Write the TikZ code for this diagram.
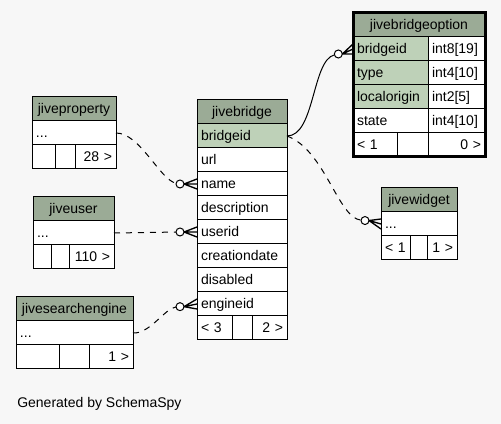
\documentclass[tikz,border=0pt]{standalone}
\usepackage{fontspec}
\setmainfont{Liberation Sans}
\usepackage{xcolor}
\usetikzlibrary{positioning}

\definecolor{hdrgreen}{HTML}{9BAB96}
\definecolor{keygreen}{HTML}{BED1B8}
\definecolor{canvas}{HTML}{F7F7F7}

% crow's foot from a ring to the column it points at
\newcommand{\crowfoot}[2]{%
  \draw[line width=1pt] (#1.east) -- ([yshift=3.75pt]#2.west)
    (#1.east) -- (#2.west)
    (#1.east) -- ([yshift=-3.75pt]#2.west);}

\begin{document}
\begin{tikzpicture}[x=0.75pt, y=-0.75pt, node distance=0pt,
    cell/.style={draw, fill=white, line width=0.75pt, anchor=north west,
      minimum height=18pt, inner xsep=3pt, inner ysep=0pt, outer sep=0pt,
      text height=8.5pt, text depth=2pt,
      font=\fontsize{10.5}{12}\selectfont, align=left},
    wd/.code={\pgfmathsetlengthmacro\cellw{#1*0.75pt-6pt}%
      \pgfkeysalso{text width/.expanded=\cellw}},
    head/.style={cell, fill=hdrgreen, align=center},
    key/.style={cell, fill=keygreen},
    num/.style={cell, align=right},
    ring/.style={circle, draw, fill=white, line width=0.75pt,
      minimum size=6pt, inner sep=0pt, outer sep=0pt},
    rel/.style={line width=0.75pt},
    fk/.style={line width=0.75pt, dash pattern=on 4.5pt off 4.5pt}]

    \fill[canvas] (0,0) rectangle (501,424);

    % jivebridge
    \node[head, wd=90] (jb) at (197,100) {jivebridge};
    \node[key, wd=90, below=of jb] (jb-bridgeid) {bridgeid};
    \node[cell, wd=90, below=of jb-bridgeid] (jb-url) {url};
    \node[cell, wd=90, below=of jb-url] (jb-name) {name};
    \node[cell, wd=90, below=of jb-name] (jb-description) {description};
    \node[cell, wd=90, below=of jb-description] (jb-userid) {userid};
    \node[cell, wd=90, below=of jb-userid] (jb-creationdate) {creationdate};
    \node[cell, wd=90, below=of jb-creationdate] (jb-disabled) {disabled};
    \node[cell, wd=90, below=of jb-disabled] (jb-engineid) {engineid};
    \node[cell, wd=35, below right=of jb-engineid.south west] (jb-f1) {< 3};
    \node[cell, wd=20, right=of jb-f1] (jb-f2) {};
    \node[num, wd=35, right=of jb-f2] (jb-f3) {2 >};

    % jivebridgeoption
    \node[head, wd=132] (jbo) at (353,13) {jivebridgeoption};
    \node[key, wd=75, below right=of jbo.south west] (jbo-bridgeid) {bridgeid};
    \node[cell, wd=57, right=of jbo-bridgeid] (jbo-bridgeid-t) {int8[19]};
    \node[key, wd=75, below=of jbo-bridgeid] (jbo-type) {type};
    \node[cell, wd=57, right=of jbo-type] (jbo-type-t) {int4[10]};
    \node[key, wd=75, below=of jbo-type] (jbo-localorigin) {localorigin};
    \node[cell, wd=57, right=of jbo-localorigin] (jbo-localorigin-t) {int2[5]};
    \node[cell, wd=75, below=of jbo-localorigin] (jbo-state) {state};
    \node[cell, wd=57, right=of jbo-state] (jbo-state-t) {int4[10]};
    \node[cell, wd=44, below right=of jbo-state.south west] (jbo-f1) {< 1};
    \node[cell, wd=31, right=of jbo-f1] (jbo-f2) {};
    \node[num, wd=57, right=of jbo-f2] (jbo-f3) {0 >};
    \draw[line width=2.25pt] (jbo.north west) rectangle (jbo-f3.south east);

    % jiveproperty
    \node[head, wd=84] (jp) at (32,97) {jiveproperty};
    \node[cell, wd=84, below=of jp] (jp-dots) {...};
    \node[cell, wd=23, below right=of jp-dots.south west] (jp-f1) {};
    \node[cell, wd=20, right=of jp-f1] (jp-f2) {};
    \node[num, wd=41, right=of jp-f2] (jp-f3) {28 >};

    % jiveuser
    \node[head, wd=81] (ju) at (33,197) {jiveuser};
    \node[cell, wd=81, below=of ju] (ju-dots) {...};
    \node[cell, wd=18, below right=of ju-dots.south west] (ju-f1) {};
    \node[cell, wd=18, right=of ju-f1] (ju-f2) {};
    \node[num, wd=45, right=of ju-f2] (ju-f3) {110 >};

    % jivesearchengine
    \node[head, wd=117] (jse) at (16,297) {jivesearchengine};
    \node[cell, wd=117, below=of jse] (jse-dots) {...};
    \node[cell, wd=43, below right=of jse-dots.south west] (jse-f1) {};
    \node[cell, wd=30, right=of jse-f1] (jse-f2) {};
    \node[num, wd=44, right=of jse-f2] (jse-f3) {1 >};

    % jivewidget
    \node[head, wd=76] (jw) at (381,188) {jivewidget};
    \node[cell, wd=76, below=of jw] (jw-dots) {...};
    \node[cell, wd=29, below right=of jw-dots.south west] (jw-f1) {< 1};
    \node[cell, wd=17, right=of jw-f1] (jw-f2) {};
    \node[num, wd=30, right=of jw-f2] (jw-f3) {1 >};

    % rings at the many ends
    \node[ring, left=8pt of jbo-bridgeid, yshift=-3.75pt] (r-jbo) {};
    \node[ring, left=9pt of jw-dots, yshift=2.6pt] (r-jw) {};
    \node[ring, left=9.75pt of jb-name] (r-name) {};
    \node[ring, left=9.75pt of jb-userid] (r-userid) {};
    \node[ring, left=9.75pt of jb-engineid, yshift=-2pt] (r-engineid) {};

    % relationships
    \draw[rel] (jb-bridgeid.east) .. controls (315,136) and (312,60) .. (r-jbo);
    \draw[fk] (jb-bridgeid.east) .. controls (325,150) and (338,218) .. (r-jw);
    \draw[fk] (jp-dots.east) .. controls (140,133) and (160,180) .. (r-name);
    \draw[fk] (ju-dots.east) -- (r-userid);
    \draw[fk] (jse-dots.east) .. controls (150,334) and (165,308) .. (r-engineid);

    \crowfoot{r-jbo}{jbo-bridgeid}
    \crowfoot{r-jw}{jw-dots}
    \crowfoot{r-name}{jb-name}
    \crowfoot{r-userid}{jb-userid}
    \crowfoot{r-engineid}{jb-engineid}

    \node[anchor=base west, inner sep=0pt, font=\fontsize{10.5}{12}\selectfont]
      (credit) at (17,408) {Generated by SchemaSpy};

\end{tikzpicture}
\end{document}
